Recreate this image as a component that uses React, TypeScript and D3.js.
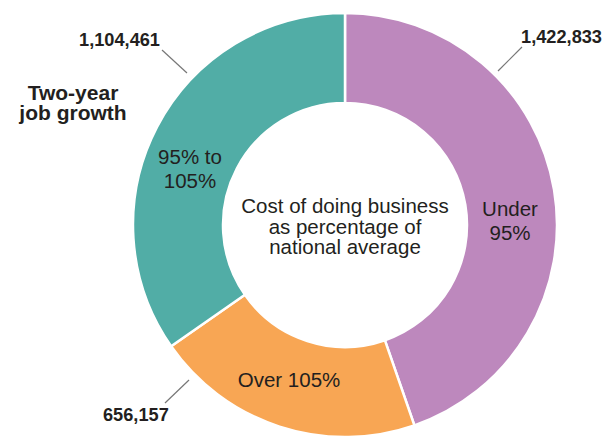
import React from "react";
import * as d3 from "d3";

const categories = ["Under 95%", "Over 105%", "95% to 105%"];
const values = [1422833, 656157, 1104461];
const valueLabels = ["1,422,833", "656,157", "1,104,461"];
const colors = ["#BD88BD", "#F8A654", "#51ADA6"];
const centerLines = ["Cost of doing business", "as percentage of", "national average"];
const titleLines = ["Two-year", "job growth"];

const W = 607, H = 438;
const cx = 345, cy = 225;
const outerR = 212, innerR = 122;
const FONT = "'Liberation Sans', Arial, Helvetica, sans-serif";
const TEXT = "#231F20";

export default function App() {
  const pie = d3.pie<number>().sort(null).value((d) => d);
  const arcs = pie(values);
  const arc = d3.arc<d3.PieArcDatum<number>>().innerRadius(innerR).outerRadius(outerR);

  const sliceLabels = [
    { lines: ["Under", "95%"], x: 510, y: 216 },
    { lines: ["Over 105%"], x: 289, y: 387 },
    { lines: ["95% to", "105%"], x: 190, y: 164 },
  ];
  const valuePos = [
    { x: 602, y: 43, anchor: "end", line: [522, 47, 498, 71] },
    { x: 103, y: 421, anchor: "start", line: [165, 403, 189, 380] },
    { x: 160, y: 46, anchor: "end", line: [162, 50, 187, 73] },
  ];

  return (
    <svg width={W} height={H} style={{ position: "absolute", left: 0, top: 0, background: "#fff" }} fontFamily={FONT}>
      <g transform={`translate(${cx},${cy})`}>
        {arcs.map((a, i) => (
          <path key={categories[i]} d={arc(a) || ""} fill={colors[i]} stroke="#fff" strokeWidth={2.5} />
        ))}
      </g>
      {sliceLabels.map((s, i) => (
        <text key={i} x={s.x} y={s.y} textAnchor="middle" fontSize={20.5} fill={TEXT}>
          {s.lines.map((l, j) => (
            <tspan key={j} x={s.x} dy={j === 0 ? 0 : 23.5}>{l}</tspan>
          ))}
        </text>
      ))}
      {valuePos.map((v, i) => (
        <g key={i}>
          <line x1={v.line[0]} y1={v.line[1]} x2={v.line[2]} y2={v.line[3]} stroke="#777" strokeWidth={1.2} />
          <text x={v.x} y={v.y} textAnchor={v.anchor as any} fontSize={18.2} fontWeight="bold" fill={TEXT}>{valueLabels[i]}</text>
        </g>
      ))}
      <text x={cx} y={213} textAnchor="middle" fontSize={20.5} fill={TEXT}>
        {centerLines.map((l, j) => (
          <tspan key={j} x={cx} dy={j === 0 ? 0 : 20.5}>{l}</tspan>
        ))}
      </text>
      <text x={73} y={100} textAnchor="middle" fontSize={21} fontWeight="bold" fill={TEXT}>
        {titleLines.map((l, j) => (
          <tspan key={j} x={73} dy={j === 0 ? 0 : 20}>{l}</tspan>
        ))}
      </text>
    </svg>
  );
}
